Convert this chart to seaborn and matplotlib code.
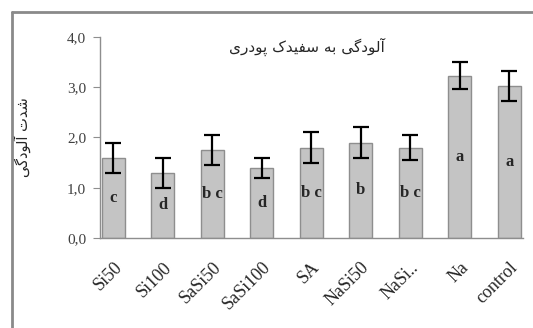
import pandas as pd
import matplotlib.pyplot as plt
import seaborn as sns
from matplotlib.lines import Line2D

# données
traitements = ['Si50', 'Si100', 'SaSi50', 'SaSi100', 'SA', 'NaSi50', 'NaSi..', 'Na', 'control']
severite = [1.6, 1.3, 1.75, 1.4, 1.8, 1.9, 1.8, 3.23, 3.03]
erreur = [0.3, 0.3, 0.3, 0.2, 0.3, 0.3, 0.25, 0.27, 0.3]
groupes = ['c', 'd', 'b c', 'd', 'b c', 'b', 'b c', 'a', 'a']
yticks = [0.0, 1.0, 2.0, 3.0, 4.0]

df = pd.DataFrame({'traitement': traitements, 'severite': severite})

# texte persan en formes de présentation (ordre visuel), matplotlib ne fait pas le façonnage
aloodegi = '\uFE81\uFEDF\uFEEE\uFEA9\uFB94\uFBFD'
titre = (aloodegi + ' \uFE91\uFEEA \uFEB3\uFED4\uFBFF\uFEAA\uFB8E \uFB58\uFEEE\uFEA9\uFEAD\uFBFC')[::-1]
ylabel = ('\uFEB7\uFEAA\uFE95 ' + aloodegi)[::-1]

sns.set_style('white')
plt.rcParams['font.family'] = ['Liberation Serif', 'DejaVu Sans']

fig = plt.figure(figsize=(5.33, 3.28), dpi=100)
ax = fig.add_axes([0.1876, 0.2744, 0.7936, 0.6128])

sns.barplot(data=df, x='traitement', y='severite', color='#c4c4c4', width=0.47,
            edgecolor='#8e8e8e', linewidth=1, saturation=1, errorbar=None, ax=ax)
ax.errorbar(range(len(traitements)), severite, yerr=erreur, fmt='none',
            ecolor='black', elinewidth=1.6, capsize=5.5, capthick=1.6)

for i, (h, g) in enumerate(zip(severite, groupes)):
    ax.text(i, h / 2, g, ha='center', va='center', fontsize=12, fontweight='bold')

ax.set_xlim(-0.27, 8.28)
ax.set_ylim(0, 4)
ax.set_yticks(yticks)
ax.set_yticklabels([f'{v:.1f}'.replace('.', ',') for v in yticks], fontsize=11, color='#404040')
ax.tick_params(axis='y', direction='out', length=5, color='#8e8e8e', left=True, pad=5)
ax.tick_params(axis='x', length=0, pad=15)
plt.setp(ax.get_xticklabels(), rotation=45, ha='right', rotation_mode='anchor', fontsize=13)
ax.set_xlabel('')
ax.set_ylabel(ylabel, family=['DejaVu Sans'], fontsize=10.5, labelpad=26)

for s in ['top', 'right']:
    ax.spines[s].set_visible(False)
for s in ['left', 'bottom']:
    ax.spines[s].set_color('#8e8e8e')
    ax.spines[s].set_linewidth(1)

ax.text(0.49, 0.95, titre, transform=ax.transAxes, ha='center', va='center',
        family=['DejaVu Sans'], fontsize=11)

# cadre gris extérieur
fig.add_artist(Line2D([12 / 533, 12 / 533], [0, 1 - 12 / 328], color='#8a8a8a', lw=2))
fig.add_artist(Line2D([12 / 533, 1], [1 - 12 / 328, 1 - 12 / 328], color='#8a8a8a', lw=2))

fig.savefig('out.png', dpi=100)
